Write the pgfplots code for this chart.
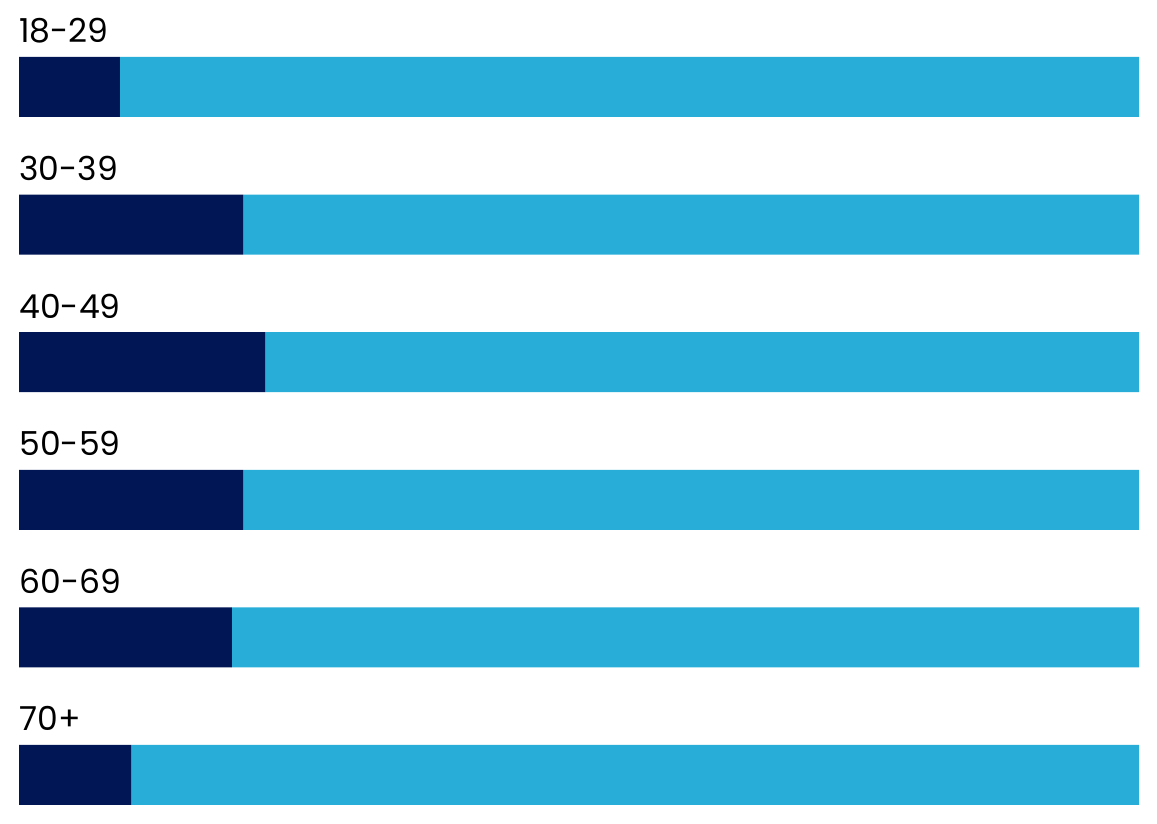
\documentclass[border=0pt]{standalone}
\usepackage{pgfplots}
\pgfplotsset{compat=1.18}
\usepackage{fontspec}
\setmainfont{Poppins}
\definecolor{navy}{HTML}{001655}
\definecolor{sky}{HTML}{27ADD8}
\begin{document}
\begin{tikzpicture}[x=1pt,y=1pt]
\useasboundingbox (0,0) rectangle (578.5,412);
\begin{axis}[at={(9.5pt,402.9pt)},anchor=north west,
  scale only axis,width=560pt,height=412.8pt,
  xbar stacked,bar width=30pt,
  xmin=0,xmax=100,ymin=-0.5,ymax=5.5,y dir=reverse,
  axis lines=none,ticks=none,clip=false,enlargelimits=false]
\addplot[fill=navy,draw=none] coordinates {(9,0) (20,1) (22,2) (20,3) (19,4) (10,5)};
\addplot[fill=sky,draw=none] coordinates {(91,0) (80,1) (78,2) (80,3) (81,4) (90,5)};
\foreach \i/\v/\n in {0/9/18-29,1/20/30-39,2/22/40-49,3/20/50-59,4/19/60-69,5/10/70+}{
  \edef\tmp{\noexpand\node[anchor=base west,inner sep=0pt,font=\noexpand\fontsize{16.5}{18}\noexpand\selectfont] at (axis cs:0,\i) [yshift=22pt] {\n};
  \noexpand\node[anchor=east,inner sep=0pt,text=white,font=\noexpand\fontsize{10}{12}\noexpand\selectfont] at (axis cs:\v,\i) [xshift=-15pt] {\v\noexpand\%};}
  \tmp
}
\end{axis}
\end{tikzpicture}
\end{document}
